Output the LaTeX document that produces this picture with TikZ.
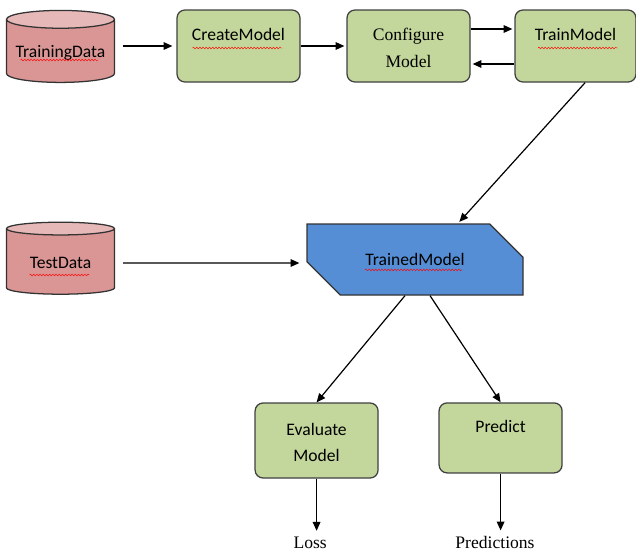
\documentclass[tikz,border=0pt]{standalone}
\usepackage{fontspec}
\setmainfont{Carlito}
\newfontfamily\serifface{Liberation Serif}
\usetikzlibrary{positioning, arrows.meta, shapes.geometric, shapes.misc, decorations.pathmorphing}

\definecolor{dataRed}{HTML}{D99694}
\definecolor{dataTop}{HTML}{E6B9B8}
\definecolor{stepGreen}{HTML}{C3D69B}
\definecolor{modelBlue}{HTML}{558ED5}

\newcommand\boxtext[1]{\parbox[c][16mm][t]{30mm}{\centering\setlength\baselineskip{19pt}\vspace*{3.6mm}#1}}

\begin{document}
\begin{tikzpicture}
    [
        x=0.25mm, y=-0.25mm, on grid, auto,
        >={Triangle[length=2.2mm, width=1.9mm]},
        every node/.style={font=\fontsize{12.5}{15}\selectfont},
        data_node/.style={cylinder, shape border rotate=90, aspect=0.18, draw=black!80, line width=0.9pt, cylinder uses custom fill, cylinder body fill=dataRed, cylinder end fill=dataTop, minimum width=27mm, minimum height=18mm},
        step_node/.style={rectangle, rounded corners=2mm, draw=black!75, line width=0.9pt, fill=stepGreen, inner sep=0pt, minimum width=30.75mm, minimum height=18mm},
        model_node/.style={chamfered rectangle, chamfered rectangle corners={north east, south west}, chamfered rectangle xsep=8mm, chamfered rectangle ysep=6.75mm, inner sep=0pt, draw=black!80, line width=0.9pt, fill=modelBlue, minimum width=54mm, minimum height=17.75mm},
        out_node/.style={font=\serifface\fontsize{12.5}{15}\selectfont, inner sep=0pt},
        flow/.style={->, line width=0.3mm, color=black},
        typo/.style={red, line width=0.3pt, decorate, decoration={snake, segment length=0.8mm, amplitude=0.22mm}},
    ]
        \useasboundingbox (0,0) rectangle (636,555);
        \node[step_node] (create) at (238.5,46) {\boxtext{CreateModel}} ;
        \node[data_node, yshift=-1.75mm] (trainData) [left = 44.5mm of create] {TrainingData} ;
        \node[step_node] (configure) [right = 42.5mm of create] {\boxtext{\serifface Configure\\Model}} ;
        \node[step_node, minimum width=30.25mm] (train) [right = 41.75mm of configure] {\boxtext{TrainModel}} ;
        \node[model_node] (trained) at (415,259.5) {TrainedModel} ;
        \node[data_node] (testData) [below = 52.5mm of trainData] {TestData} ;
        \node[step_node, minimum height=18.75mm] (evaluate) [below left = 45.25mm and 24.6mm of trained] {\boxtext{Evaluate\\Model}} ;
        \node[step_node, minimum height=17.5mm] (predict) [below right = 44.6mm and 21.4mm of trained] {\boxtext{Predict}} ;
        \node[out_node] (loss) [below left = 25.6mm and 1.6mm of evaluate] {Loss} ;
        \node[out_node] (predictions) [below left = 26.25mm and 1.4mm of predict] {Predictions} ;
        \draw[flow, shorten <=2mm, shorten >=1mm] (trainData.east |- create) -- (create) ;
        \draw[flow, shorten >=0.5mm] (create) -- (configure) ;
        \draw[flow, shorten >=0.5mm] ([yshift=4.25mm]configure.east) -- ([yshift=4.25mm]train.west) ;
        \draw[flow, shorten >=0.5mm] ([yshift=-4.5mm]train.west) -- ([yshift=-4.5mm]configure.east) ;
        \draw[flow, shorten >=0.5mm] ([xshift=2.4mm]train.south) -- ([xshift=10.75mm]trained.north) ;
        \draw[flow, shorten <=2mm, shorten >=1.75mm] (testData) -- (testData -| trained.west) ;
        \draw[flow] ([xshift=-2.5mm]trained.south) -- (evaluate.north) ;
        \draw[flow] ([xshift=3.75mm]trained.south) -- (predict.north) ;
        \draw[flow, shorten >=1.5mm] (evaluate) -- (evaluate |- loss.north) ;
        \draw[flow, shorten >=1.5mm] (predict) -- (predict |- predictions.north) ;
        % spell-check squiggles
        \draw[typo] ([xshift=-10mm, yshift=-1.75mm]trainData.center) -- ++(78,0) ;
        \draw[typo] ([xshift=-11.5mm, yshift=-0.5mm]create.center) -- ++(90,0) ;
        \draw[typo] ([xshift=-9.4mm, yshift=-0.5mm]train.center) -- ++(80,0) ;
        \draw[typo] ([xshift=-7.75mm, yshift=-3mm]testData.center) -- ++(60,0) ;
        \draw[typo] ([xshift=-12.5mm, yshift=-2.6mm]trained.center) -- ++(97,0) ;
    \end{tikzpicture}
\end{document}
